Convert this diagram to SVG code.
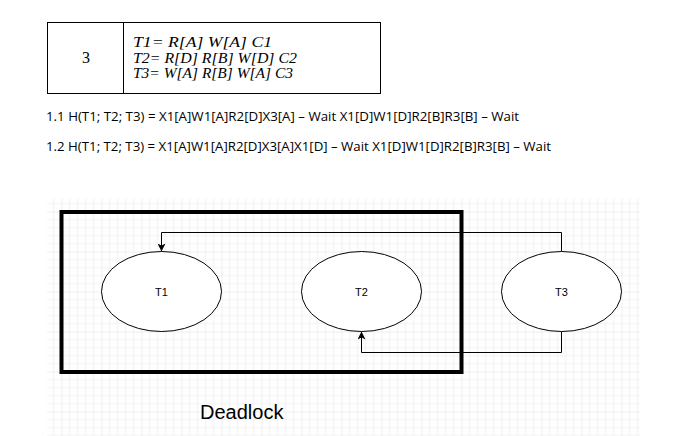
<svg xmlns="http://www.w3.org/2000/svg" width="680" height="436" viewBox="0 0 680 436">
<style>
.cell{fill:none;stroke:#000;stroke-width:1}
.tt{font-family:"Liberation Serif",serif;font-style:italic;font-size:15px;fill:#000}
.hist{font-family:"Open Sans","Liberation Sans",sans-serif;font-size:12.5px;fill:#000}
.node{fill:#fff;stroke:#000;stroke-width:1}
.lbl{font-family:"Liberation Sans",Arial,sans-serif;font-size:11px;fill:#000;text-anchor:middle}
.conn{fill:none;stroke:#000;stroke-width:1}
</style>
<defs>
<pattern id="grid" patternUnits="userSpaceOnUse" x="21.5" y="211.5" width="40" height="40">
<path d="M8 0V40M16 0V40M24 0V40M32 0V40M0 8H40M0 16H40M0 24H40M0 32H40" stroke="#f0f0f0" stroke-width="1" fill="none"/>
<path d="M0 0V40M0 0H40" stroke="#dfdfdf" stroke-width="1" fill="none"/>
</pattern>
<marker id="arr" viewBox="0 0 10 10" refX="10" refY="5" markerWidth="8" markerHeight="8" markerUnits="userSpaceOnUse" orient="auto">
<path d="M0 0L10 5L0 10L2.5 5Z" fill="#000"/>
</marker>
</defs>
<rect width="680" height="436" fill="#fff"/>
<g id="table">
<path class="cell" d="M47 22.5H380.5M47 93.5H380.5M47.5 22V94M123.5 22V94M380.5 22V94"/>
<text x="86" y="63" font-family="Liberation Serif,serif" font-size="16" text-anchor="middle">3</text>
<text class="tt" x="133" y="47" textLength="139" lengthAdjust="spacingAndGlyphs">T1= R[A] W[A] C1</text>
<text class="tt" x="133" y="62.5" textLength="164" lengthAdjust="spacingAndGlyphs">T2= R[D] R[B] W[D] C2</text>
<text class="tt" x="133" y="78" textLength="160" lengthAdjust="spacingAndGlyphs">T3= W[A] R[B] W[A] C3</text>
</g>
<g id="history">
<text class="hist" x="46" y="121" textLength="473" lengthAdjust="spacingAndGlyphs">1.1 H(T1; T2; T3) = X1[A]W1[A]R2[D]X3[A] – Wait X1[D]W1[D]R2[B]R3[B] – Wait</text>
<text class="hist" x="46" y="151" textLength="505" lengthAdjust="spacingAndGlyphs">1.2 H(T1; T2; T3) = X1[A]W1[A]R2[D]X3[A]X1[D] – Wait X1[D]W1[D]R2[B]R3[B] – Wait</text>
</g>
<rect x="47" y="198" width="593" height="238" fill="url(#grid)"/>
<g id="deadlock-box">
<rect x="61.5" y="212" width="400" height="160" fill="none" stroke="#000" stroke-width="4"/>
</g>
<g id="connectors">
<path class="conn" d="M561.5 251.5V232.5H161.5V251.5" marker-end="url(#arr)"/>
<path class="conn" d="M561.5 331.5V352.5H361.5V331.5" marker-end="url(#arr)"/>
</g>
<g id="T1">
<ellipse class="node" cx="161.5" cy="291.5" rx="60" ry="40"/>
<text class="lbl" x="161.5" y="295.5">T1</text>
</g>
<g id="T2">
<ellipse class="node" cx="361.5" cy="291.5" rx="60" ry="40"/>
<text class="lbl" x="361.5" y="295.5">T2</text>
</g>
<g id="T3">
<ellipse class="node" cx="561.5" cy="291.5" rx="60" ry="40"/>
<text class="lbl" x="561.5" y="295.5">T3</text>
</g>
<g id="caption">
<text x="200" y="419" font-family="Liberation Sans,Arial,sans-serif" font-size="20" fill="#000">Deadlock</text>
</g>
</svg>
